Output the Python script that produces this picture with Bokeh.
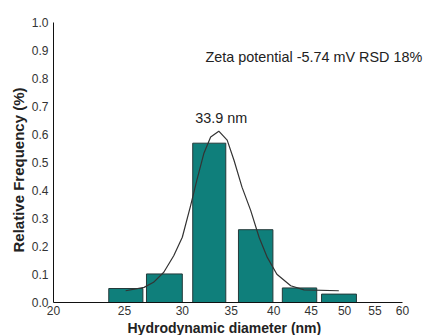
from bokeh.plotting import figure
from bokeh.models import FixedTicker, NumeralTickFormatter, Label, Range1d, Title
from bokeh.embed import file_html
from bokeh.resources import INLINE

# Histogram bins (hydrodynamic diameter, nm) and relative frequency
bin_left = [23.8, 26.8, 31.0, 35.8, 41.1, 46.5]
bin_right = [26.5, 30.0, 34.4, 39.9, 45.8, 51.9]
rel_freq = [0.050, 0.102, 0.569, 0.260, 0.052, 0.030]

# Fitted distribution curve
curve_x = [25.1, 26.6, 27.4, 28.3, 29.2, 30.0, 30.8, 31.4, 32.1, 32.8, 33.65,
           34.55, 35.3, 36.2, 37.2, 38.2, 39.2, 40.4, 42.2, 44.0, 49.1]
curve_y = [0.042, 0.054, 0.072, 0.108, 0.167, 0.233, 0.347, 0.436, 0.532, 0.591, 0.612,
           0.580, 0.508, 0.412, 0.329, 0.233, 0.161, 0.101, 0.060, 0.045, 0.042]

x_ticks = [20, 25, 30, 35, 40, 45, 50, 55, 60]
y_ticks = [0.0, 0.1, 0.2, 0.3, 0.4, 0.5, 0.6, 0.7, 0.8, 0.9, 1.0]

FONT = "Liberation Sans"

# frame runs to the right edge so the annotation is not clipped; the axis itself stops at 60
p = figure(width=425, height=335, x_axis_type="log",
           x_range=Range1d(20, 64.5), y_range=Range1d(0, 1.0),
           output_backend="svg", toolbar_location=None,
           min_border_left=53, min_border_right=0, min_border_top=22, min_border_bottom=0)
p.outline_line_color = None
p.grid.visible = False
p.background_fill_color = "white"

p.quad(left=bin_left, right=bin_right, bottom=0, top=rel_freq,
       fill_color="#0f7f7b", line_color="#243a3a", line_width=1)
p.line(curve_x, curve_y, line_color="#333333", line_width=1.2)

for ax in (p.xaxis[0], p.yaxis[0]):
    ax.major_tick_in = 0
    ax.major_tick_out = 0
    ax.minor_tick_in = 0
    ax.minor_tick_out = 0
    ax.axis_line_color = "#111111"
    ax.axis_line_width = 1
    ax.major_label_text_font = FONT
    ax.major_label_text_font_size = "12px"
    ax.major_label_text_color = "#333333"

p.xaxis.bounds = (20, 60)
p.xaxis.ticker = FixedTicker(ticks=x_ticks, minor_ticks=[])
p.xaxis.formatter = NumeralTickFormatter(format="0")
p.yaxis.ticker = FixedTicker(ticks=y_ticks, minor_ticks=[])
p.yaxis.formatter = NumeralTickFormatter(format="0.0")
p.xaxis.major_label_standoff = 3
p.yaxis.major_label_standoff = 5

p.add_layout(Title(text="Hydrodynamic diameter (nm)", align="left", offset=74,
                   text_font=FONT, text_font_size="14px", text_font_style="bold",
                   text_color="#222222", standoff=0), "below")
p.add_layout(Title(text="Relative Frequency (%)", align="left", offset=50,
                   text_font=FONT, text_font_size="15px", text_font_style="bold",
                   text_color="#222222", standoff=4), "left")

p.add_layout(Label(x=32.27, y=0.878, text="Zeta potential -5.74 mV RSD 18%",
                   text_font=FONT, text_font_size="14.4px", text_color="#222222",
                   text_align="left", text_baseline="alphabetic"))
p.add_layout(Label(x=33.9, y=0.66, text="33.9 nm",
                   text_font=FONT, text_font_size="14.4px", text_color="#222222",
                   text_align="center", text_baseline="alphabetic"))

open("out.html", "w").write(file_html(p, INLINE))
